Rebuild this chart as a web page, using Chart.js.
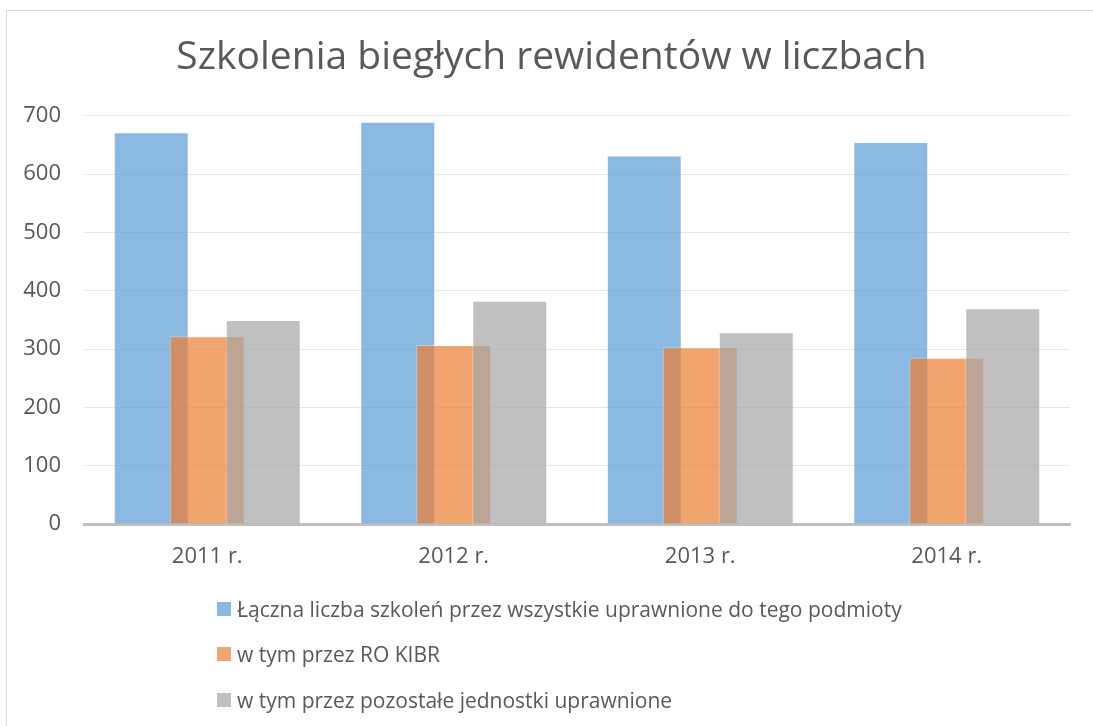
<!DOCTYPE html>
<html>
<head>
<meta charset="utf-8">
<script src="https://cdn.jsdelivr.net/npm/chart.js@4.4.1/dist/chart.umd.min.js"></script>
<style>
  html, body { margin: 0; padding: 0; background: #fff; overflow: hidden; }
  #wrap { position: relative; width: 1093px; height: 726px; overflow: hidden; }
  #frame { position: absolute; left: 6px; top: 10px; width: 1200px; height: 800px; border: 1px solid #d9d9d9; }
  #chart { position: absolute; left: 0; top: 0; }
  #legend { position: absolute; left: 217px; top: 586px; font-family: 'Open Sans', sans-serif; font-size: 21px; color: #595959; }
  .item { display: flex; align-items: center; height: 45.5px; white-space: nowrap; }
  .box { width: 14px; height: 14px; margin-right: 6px; flex: none; }
</style>
</head>
<body>
<div id="wrap">
  <div id="frame"></div>
  <canvas id="chart" width="1093" height="726"></canvas>
  <div id="legend"></div>
</div>
<script>
const categories = ['2011 r.', '2012 r.', '2013 r.', '2014 r.'];
const totalTrainings = [672, 690, 632, 655];
const kibrTrainings = [322, 307, 303, 285];
const otherTrainings = [350, 383, 329, 370];
const seriesNames = [
    'Łączna liczba szkoleń przez wszystkie uprawnione do tego podmioty',
    'w tym przez RO KIBR',
    'w tym przez pozostałe jednostki uprawnione'
];
const seriesColors = ['rgba(91, 155, 213, 0.7)', 'rgba(237, 125, 49, 0.7)', 'rgba(165, 165, 165, 0.7)'];
const chartTitle = 'Szkolenia biegłych rewidentów w liczbach';
const yMax = 700;
const yStep = 100;

const textColor = '#595959';
Chart.defaults.font.family = "'Open Sans', sans-serif";
Chart.defaults.color = textColor;

// Excel draws the later series on top, Chart.js does the opposite
const drawInOrder = {
    id: 'drawInOrder',
    beforeDatasetsDraw(chart) {
        chart.getSortedVisibleDatasetMetas().forEach(meta => meta.controller.draw());
        return false;
    }
};

const seriesData = [totalTrainings, kibrTrainings, otherTrainings];
const datasets = seriesData.map((values, i) => ({
    label: seriesNames[i],
    data: values,
    backgroundColor: seriesColors[i],
    borderColor: 'rgba(255, 255, 255, 0.35)',
    borderWidth: 1,
    categoryPercentage: 0.6815,
    barPercentage: 1.339
}));

new Chart(document.getElementById('chart'), {
    type: 'bar',
    data: { labels: categories, datasets: datasets },
    options: {
        responsive: false,
        animation: false,
        layout: { padding: { left: 10, right: 0, top: 10, bottom: 0 } },
        plugins: {
            legend: { display: false },
            tooltip: { enabled: false },
            title: {
                display: true,
                text: chartTitle,
                color: textColor,
                font: { size: 39, weight: 'normal' },
                padding: { top: 24, bottom: 35 }
            }
        },
        scales: {
            x: {
                z: 1,
                grid: { display: false },
                border: { color: '#bfbfbf', width: 3 },
                ticks: { font: { size: 22 }, color: textColor, padding: 12 },
                afterFit(scale) { scale.height = 202; }
            },
            y: {
                min: 0,
                max: yMax,
                grid: { color: '#e6e6e6', lineWidth: 1, drawTicks: false },
                border: { display: false },
                ticks: { stepSize: yStep, font: { size: 22 }, color: textColor, padding: 23 },
                afterFit(scale) { scale.width = 74; }
            },
            // empty right-hand axis, only keeps the plot off the right edge
            yRight: {
                position: 'right',
                min: 0,
                max: yMax,
                grid: { display: false },
                border: { display: false },
                ticks: { display: false },
                afterFit(scale) { scale.width = 23; }
            }
        }
    },
    plugins: [drawInOrder]
});

const legend = document.getElementById('legend');
seriesNames.forEach((name, i) => {
    const item = document.createElement('div');
    item.className = 'item';
    const box = document.createElement('span');
    box.className = 'box';
    box.style.background = seriesColors[i];
    const label = document.createElement('span');
    label.textContent = name;
    item.appendChild(box);
    item.appendChild(label);
    legend.appendChild(item);
});
</script>
</body>
</html>
